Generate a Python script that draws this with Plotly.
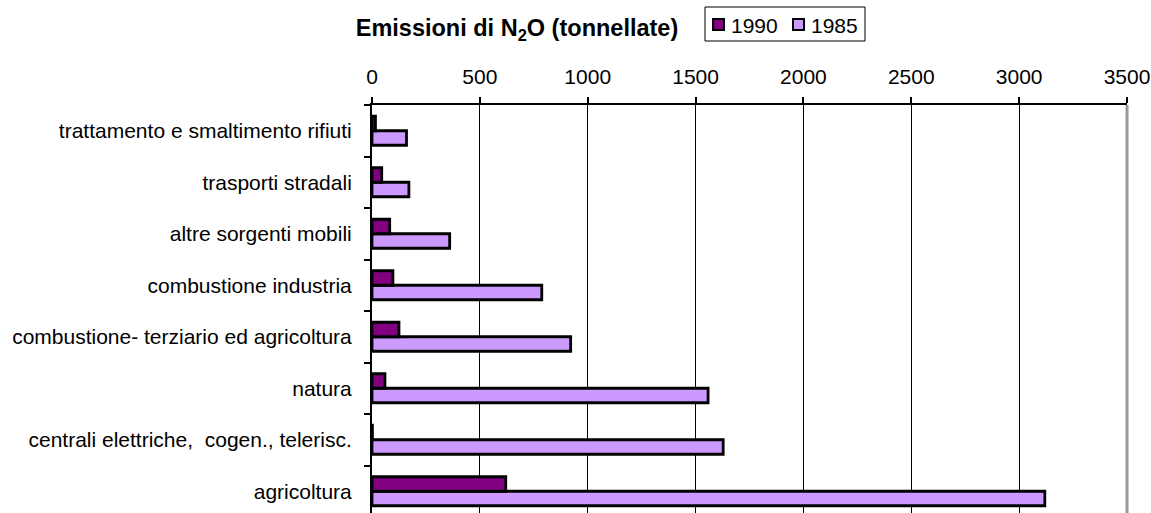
import plotly.graph_objects as go

# Emission sources, listed from the bottom row to the top row
categories = [
    "agricoltura",
    "centrali elettriche,\u00a0 cogen., telerisc.",
    "natura",
    "combustione- terziario ed agricoltura",
    "combustione industria",
    "altre sorgenti mobili",
    "trasporti stradali",
    "trattamento e smaltimento rifiuti",
]

# N2O emissions in tonnes
values_1990 = [620, 2, 60, 125, 97, 82, 45, 16]
values_1985 = [3119, 1628, 1558, 921, 787, 360, 171, 160]

series_names = ["1990", "1985"]
series_colors = ["#800080", "#CC99FF"]
x_ticks = [0, 500, 1000, 1500, 2000, 2500, 3000, 3500]

FONT = "Liberation Sans, Arial, sans-serif"
W, H = 1151, 513
ROW_PX = 51.5          # height of one category band in pixels
PLOT_TOP, PLOT_LEFT, PLOT_RIGHT = 105, 372, 24
plot_w = W - PLOT_LEFT - PLOT_RIGHT
plot_h = H - PLOT_TOP
y_bottom = (len(categories) - 0.5) - plot_h / ROW_PX


def px_x(px):
    """Pixel column -> paper x."""
    return (px - PLOT_LEFT) / plot_w


def px_y(py):
    """Pixel row -> paper y."""
    return (H - py) / plot_h


fig = go.Figure()

# trace order puts 1985 below 1990 inside each group
fig.add_trace(go.Bar(
    y=categories, x=values_1985, name=series_names[1], orientation="h",
    marker=dict(color=series_colors[1], line=dict(color="black", width=2.8)),
    showlegend=False,
))
fig.add_trace(go.Bar(
    y=categories, x=values_1990, name=series_names[0], orientation="h",
    marker=dict(color=series_colors[0], line=dict(color="black", width=2.8)),
    showlegend=False,
))

# compact boxed legend above the chart
shapes = [
    dict(type="rect", xref="paper", yref="paper",
         x0=px_x(705), x1=px_x(865), y0=px_y(41), y1=px_y(7),
         line=dict(color="black", width=1), fillcolor="white"),
]
annotations = []
swatch_left = [713, 793]
for name, color, sx in zip(series_names, series_colors, swatch_left):
    shapes.append(dict(
        type="rect", xref="paper", yref="paper",
        x0=px_x(sx), x1=px_x(sx + 11), y0=px_y(30), y1=px_y(19),
        line=dict(color="black", width=2), fillcolor=color,
    ))
    annotations.append(dict(
        text=name, xref="paper", yref="paper",
        x=px_x(sx + 16), y=px_y(25), xanchor="left", yanchor="middle",
        showarrow=False, font=dict(family=FONT, size=21, color="black"),
    ))

# grey right-hand border of the plot area
shapes.append(dict(
    type="line", xref="paper", yref="paper",
    x0=1, x1=1, y0=0, y1=1,
    line=dict(color="#999999", width=3), layer="above",
))

fig.update_layout(
    width=W, height=H,
    margin=dict(l=PLOT_LEFT, r=PLOT_RIGHT, t=PLOT_TOP, b=0, pad=0),
    paper_bgcolor="white", plot_bgcolor="white",
    font=dict(family=FONT, size=21, color="black"),
    barmode="group", bargap=0.437, bargroupgap=0,
    showlegend=False,
    title=dict(
        text="<b>Emissioni di N<sub>2</sub>O (tonnellate)</b>",
        font=dict(family=FONT, size=23.5, color="black"),
        xref="container", yref="container",
        x=517 / W, xanchor="center",
        y=1 - 28 / H, yanchor="middle",
    ),
    xaxis=dict(
        side="top", range=[0, 3500],
        tickvals=x_ticks, ticktext=[str(v) for v in x_ticks],
        ticks="outside", ticklen=6, tickwidth=1.5, tickcolor="black",
        ticklabelstandoff=5,
        showgrid=True, gridcolor="black", gridwidth=1,
        showline=True, linecolor="black", linewidth=2,
        zeroline=False,
    ),
    yaxis=dict(
        type="category", categoryorder="array", categoryarray=categories,
        range=[y_bottom, len(categories) - 0.5],
        ticks="outside", tickson="boundaries", ticklen=6, tickwidth=1.5,
        tickcolor="black", ticklabelstandoff=14,
        showgrid=False,
        showline=True, linecolor="black", linewidth=2,
        zeroline=False,
    ),
    shapes=shapes,
    annotations=annotations,
)

fig.write_html("out.html")
